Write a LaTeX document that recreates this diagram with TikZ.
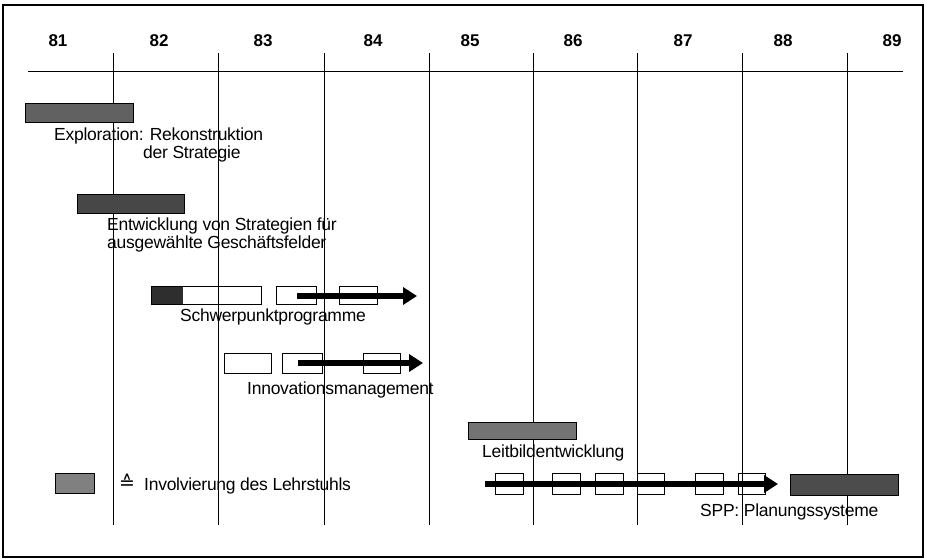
\documentclass[tikz,border=0pt]{standalone}
\usepackage{fontspec}
\setmainfont{Liberation Sans}
\newfontfamily\lblfont[LetterSpace=-1.5]{Liberation Sans}
\newfontfamily\symfont{DejaVu Sans}
\usetikzlibrary{arrows.meta}
\begin{document}
\begin{tikzpicture}[x=1pt,y=-1pt,
  lbl/.style={anchor=base west, inner sep=0pt, align=left, font=\lblfont\fontsize{17.5}{15.5}\selectfont},
  yr/.style={anchor=base, inner sep=0pt, font=\fontsize{17}{18}\selectfont\bfseries},
  gridline/.style={line width=0.8pt},
  bar/.style={draw=black, line width=1pt, inner sep=0pt, minimum width=#1},
  wbox/.style={draw=black, line width=0.8pt, inner sep=0pt, minimum width=#1},
  bigarrow/.style={line width=5.5pt, -{Triangle[length=14pt,width=17pt]}},
]
\useasboundingbox (0,0) rectangle (925,558);
\draw[line width=1.8pt] (3,5) rectangle (923,557);

% axis
\coordinate (axL) at (28,71);
\coordinate (axR) at (903,71);
\draw[line width=1pt] (axL) -- (axR);
\foreach \x in {113,218,324,429,533,637,742,847}{
  \draw[gridline] (\x,53) -- (\x,525);
}
% years
\node[yr] (y81) at (58,46) {81};
\node[yr] (y82) at (159,46) {82};
\node[yr] (y83) at (263,46) {83};
\node[yr] (y84) at (373,46) {84};
\node[yr] (y85) at (470,46) {85};
\node[yr] (y86) at (573,46) {86};
\node[yr] (y87) at (683,46) {87};
\node[yr] (y88) at (783,46) {88};
\node[yr] (y89) at (892,46) {89};

% Exploration
\node[bar=108pt, minimum height=19pt, fill=black!62] (b1) at (79,112.5) {};
\node[lbl] (t1) at (54,158) {Exploration: Rekonstruktion\\\hspace*{89pt}der Strategie};

% Entwicklung
\node[bar=107pt, minimum height=19pt, fill=black!72] (b2) at (130.5,203.5) {};
\node[lbl] (t2) at (107,248) {Entwicklung von Strategien für\\ausgewählte Geschäftsfelder};

% Schwerpunktprogramme
\fill[black!82] (151,286) rectangle (183,304);
\node[wbox=110pt, minimum height=18pt] (sp1) at (206,295) {};
\node[wbox=40pt, minimum height=18pt] (sp2) at (296,295) {};
\node[wbox=38pt, minimum height=18pt] (sp3) at (358,295) {};
\coordinate (spA) at (297,296);
\coordinate (spB) at (417,296);
\draw[bigarrow] (spA) -- (spB);
\node[lbl] (t3) at (180,321) {Schwerpunktprogramme};

% Innovationsmanagement
\node[wbox=47pt, minimum height=20pt] (in1) at (247.5,363) {};
\node[wbox=40pt, minimum height=20pt] (in2) at (302,363) {};
\node[wbox=37pt, minimum height=20pt] (in3) at (381.5,363) {};
\coordinate (inA) at (298,363);
\coordinate (inB) at (423,363);
\draw[bigarrow] (inA) -- (inB);
\node[lbl] (t4) at (247,394) {Innovationsmanagement};

% Leitbildentwicklung
\node[bar=108pt, minimum height=17pt, fill=black!55] (lb) at (522,430.5) {};
\node[lbl] (t5) at (482,457) {Leitbildentwicklung};

% SPP
\node[wbox=28pt, minimum height=21pt] (s1) at (509,483.5) {};
\node[wbox=28pt, minimum height=21pt] (s2) at (566,483.5) {};
\node[wbox=28pt, minimum height=21pt] (s3) at (609,483.5) {};
\node[wbox=27pt, minimum height=21pt] (s4) at (650.5,483.5) {};
\node[wbox=28pt, minimum height=21pt] (s5) at (709,483.5) {};
\node[wbox=27pt, minimum height=21pt] (s6) at (751.5,483.5) {};
\coordinate (sA) at (485,484);
\coordinate (sB) at (778,484);
\draw[bigarrow] (sA) -- (sB);
\node[bar=108pt, minimum height=21pt, fill=black!70] (spp) at (844,484.5) {};
\node[lbl] (t6) at (700,516) {SPP: Planungssysteme};

% legend
\node[bar=39pt, minimum height=20pt, fill=black!50] (leg) at (74.5,483) {};
\node[inner sep=0pt, font=\symfont\fontsize{19}{20}\selectfont] (eq) at (127,481.5) {≙};
\node[lbl] (t7) at (144,490) {Involvierung des Lehrstuhls};
\end{tikzpicture}
\end{document}
